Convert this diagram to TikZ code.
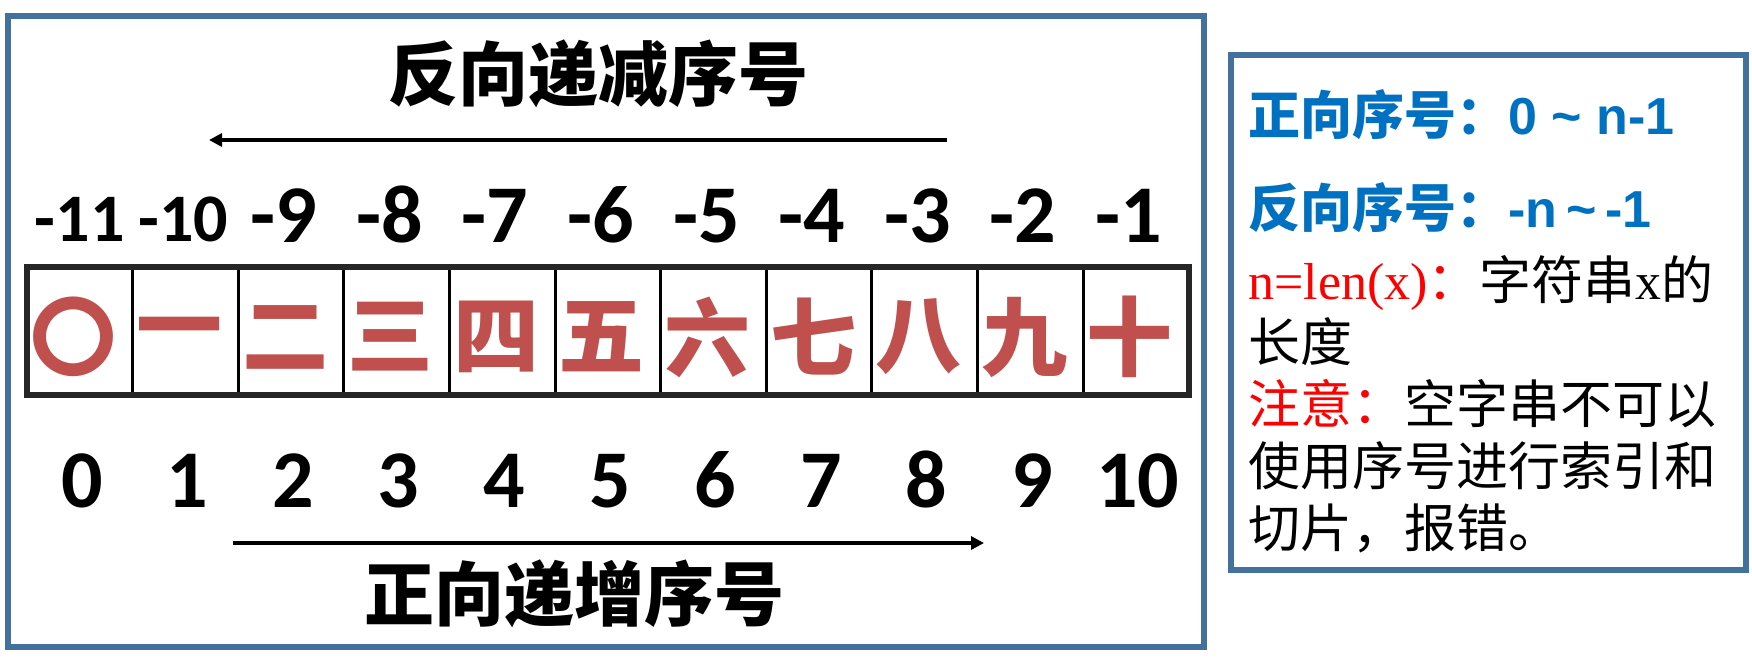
\documentclass[tikz,border=0pt]{standalone}
\usepackage{fontspec}
\usetikzlibrary{arrows.meta}
\newfontfamily\cjk{Noto Sans CJK SC}
\newfontfamily\calnum{Carlito}
\newfontfamily\arl{Liberation Sans}
\newfontfamily\tnr{Liberation Serif}
\definecolor{frameblue}{RGB}{65,113,156}
\definecolor{numred}{RGB}{192,80,77}
\definecolor{txtblue}{RGB}{0,112,192}
\definecolor{tabgray}{RGB}{38,38,38}
\newcommand{\tld}{{\char"7E}}
\begin{document}
\begin{tikzpicture}[x=1pt,y=-1pt,
  framebox/.style={draw=frameblue,line width=5.5pt},
  cellbox/.style={draw=black,line width=3pt,minimum width=105.6pt,minimum height=128pt,inner sep=0pt,outer sep=0pt},
  numeral/.style={inner sep=0pt,text=numred,font=\cjk\bfseries\fontsize{86}{90}\selectfont},
  bignum/.style={inner sep=0pt,anchor=base,font=\calnum\bfseries\fontsize{82}{90}\selectfont},
  smallnum/.style={inner sep=0pt,anchor=base,font=\calnum\bfseries\fontsize{68}{75}\selectfont},
  heading/.style={inner sep=0pt,font=\cjk\bfseries\fontsize{70}{76}\selectfont},
  arrowline/.style={line width=4.3pt,-{Triangle[length=13pt,width=13pt]}},
  rtext/.style={inner sep=0pt,anchor=west,font=\cjk\fontsize{52}{60}\selectfont}
]
\useasboundingbox (0,0) rectangle (1752,657);
\fill[white] (0,0) rectangle (1752,657);
% frames
\draw[framebox] (8,16) rectangle (1204,647);
\draw[framebox] (1231,55) rectangle (1746,570);
% heading top
\node[heading] (toptitle) at (598,74) {反向递减序号};
\coordinate (ta1) at (947,140);
\coordinate (ta2) at (209,140);
\draw[arrowline] (ta1) -- (ta2);
% table cells
\foreach \i/\ch in {0/〇,1/一,2/二,3/三,4/四,5/五,6/六,7/七,8/八,9/九,10/十}{
  \node[cellbox] (c\i) at ({79.8+105.6*\i},331) {};
  \node[numeral] (ch\i) at ([xshift=-6pt,yshift=-6pt]c\i.center) {\ch};
}
\draw[tabgray,line width=6pt] (c0.north west) rectangle (c10.south east);
% negative indices
\node[smallnum] (n0) at ([xshift=0pt]c0.center |- 0,241) {-11};
\node[smallnum] (n1) at ([xshift=-2pt]c1.center |- 0,241) {-10};
\foreach \i/\lab in {2/-9,3/-8,4/-7,5/-6,6/-5,7/-4,8/-3,9/-2,10/-1}{
  \node[bignum] (n\i) at ([xshift=-7pt]c\i.center |- 0,242) {\lab};
}
% positive indices
\foreach \i in {0,...,10}{
  \node[bignum] (p\i) at ([xshift=2pt]c\i.center |- 0,507) {\i};
}
\coordinate (ba1) at (233,543);
\coordinate (ba2) at (984,543);
\draw[arrowline] (ba1) -- (ba2);
\node[heading] (bottitle) at (574,594) {正向递增序号};
% right box text
\node[rtext] (r1) at (1248,115) {\color{txtblue}\bfseries 正向序号：\arl\bfseries 0 \tld\ n-1};
\node[rtext] (r2) at (1248,208) {\color{txtblue}\bfseries 反向序号：\arl\bfseries -n\kern9pt\tld\kern9pt-1};
\node[rtext] (r3) at (1248,283) {{\color{red}\tnr n=len(x)\cjk ：}字符串{\tnr x}的};
\node[rtext] (r4) at (1248,342) {长度};
\node[rtext] (r5) at (1248,404) {{\color{red}注意：}空字串不可以};
\node[rtext] (r6) at (1248,466) {使用序号进行索引和};
\node[rtext] (r7) at (1248,528) {切片，报错。};
\end{tikzpicture}
\end{document}
